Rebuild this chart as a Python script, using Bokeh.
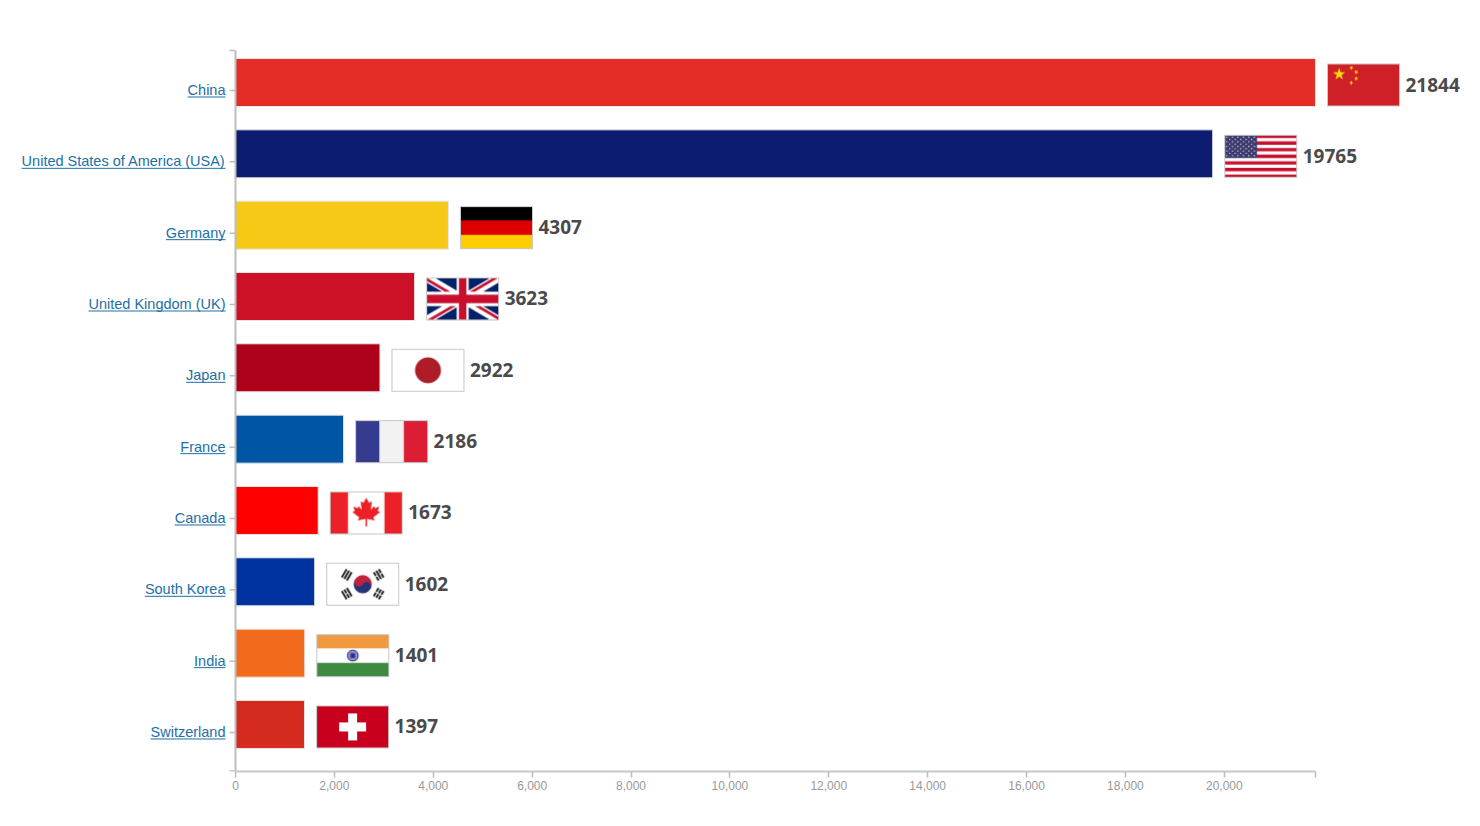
import numpy as np
import bokeh.plotting as bplt
import bokeh.models as bmod
from bokeh.core.properties import value
from bokeh.embed import file_html
from bokeh.resources import INLINE

countries = ["China", "United States of America (USA)", "Germany", "United Kingdom (UK)",
             "Japan", "France", "Canada", "South Korea", "India", "Switzerland"]
amounts = [21844, 19765, 4307, 3623, 2922, 2186, 1673, 1602, 1401, 1397]
bar_colors = ["#e52d27", "#0c1c70", "#f5c915", "#cc1126", "#ad0019",
              "#0055a4", "#ff0000", "#0032a0", "#f26b1d", "#d52b1e"]
flag_codes = ["cn", "us", "de", "gb", "jp", "fr", "ca", "kr", "in", "ch"]
x_ticks = list(range(0, 20001, 2000))

# --- layout in screen pixels -------------------------------------------------
FRAME_W, FRAME_H = 1464, 771
X0_PX = 235            # where value 0 sits
X_MAX = max(amounts)
UX = X_MAX / 1080.0    # data units per px along x
STEP = 71.33           # px per category
UY = 1.0 / STEP
TOP_PX = 82            # centre of first bar from frame top
n = len(countries)
y_top = (n - 1) + TOP_PX * UY
y_bot = (n - 1) - (FRAME_H - TOP_PX) * UY

# --- small procedural flags, 73x43 px ---------------------------------------
FW, FH, SS = 73, 43, 4


def hexrgb(h):
    h = h.lstrip("#")
    return np.array([int(h[i:i + 2], 16) for i in (0, 2, 4)], float)


def blank(color):
    img = np.empty((FH * SS, FW * SS, 3))
    img[:] = hexrgb(color)
    xs = (np.arange(FW * SS) + 0.5) / SS
    ys = (np.arange(FH * SS) + 0.5) / SS
    X, Y = np.meshgrid(xs, ys)
    return img, X, Y


def star(X, Y, cx, cy, R, rot=0.0):
    dx, dy = X - cx, Y - cy
    ang = np.arctan2(dx, -dy) - rot
    r = np.hypot(dx, dy)
    phi = np.abs((ang + np.pi / 5) % (2 * np.pi / 5) - np.pi / 5)
    ri = R * 0.382
    p1 = np.array([R, 0.0])
    p2 = np.array([ri * np.cos(np.pi / 5), ri * np.sin(np.pi / 5)])
    d = p2 - p1
    t = (p1[0] * d[1] - p1[1] * d[0]) / (np.cos(phi) * d[1] - np.sin(phi) * d[0])
    return r <= t


def polygon(X, Y, pts):
    inside = np.zeros(X.shape, bool)
    for k in range(len(pts)):
        x1, y1 = pts[k]
        x2, y2 = pts[(k + 1) % len(pts)]
        cond = (y1 > Y) != (y2 > Y)
        xi = (x2 - x1) * (Y - y1) / (y2 - y1 + 1e-12) + x1
        inside ^= cond & (X < xi)
    return inside


def flag_cn():
    img, X, Y = blank("#cf2027")
    gx, gy = FW / 30.0, FH / 20.0
    img[star(X, Y, 5 * gx, 5 * gy, 3 * gy)] = hexrgb("#ffde00")
    for sx, sy in [(10, 2), (12, 4), (12, 7), (10, 9)]:
        rot = np.arctan2(5 * gx - sx * gx, -(5 * gy - sy * gy))
        img[star(X, Y, sx * gx, sy * gy, 1.1 * gy, rot)] = hexrgb("#ffde00")
    return img


def flag_us():
    img, X, Y = blank("#ffffff")
    stripe = np.floor(Y / (FH / 13.0)).astype(int)
    img[stripe % 2 == 0] = hexrgb("#c8102e")
    cw, ch = 0.45 * FW, 7 * FH / 13.0
    img[(X < cw) & (Y < ch)] = hexrgb("#3c3b6e")
    for row in range(9):
        for col in range(11):
            if (row + col) % 2 == 0:
                cx, cy = (col + 1) * cw / 12.0, (row + 1) * ch / 10.0
                img[np.hypot(X - cx, Y - cy) < 0.6] = hexrgb("#ffffff")
    return img


def flag_de():
    img, X, Y = blank("#000000")
    img[Y > FH / 3.0] = hexrgb("#dd0000")
    img[Y > 2 * FH / 3.0] = hexrgb("#ffce00")
    return img


def flag_gb():
    img, X, Y = blank("#012169")
    fx, fy = X / FW * 60, Y / FH * 30
    d1 = (30 * fx - 60 * fy) / 67.08
    d2 = (30 * fx + 60 * fy - 1800) / 67.08
    img[(np.abs(d1) < 3) | (np.abs(d2) < 3)] = hexrgb("#ffffff")
    left = fx < 30
    red1 = (left & (d1 < 0) & (d1 > -2)) | (~left & (d1 > 0) & (d1 < 2))
    red2 = (left & (d2 > 0) & (d2 < 2)) | (~left & (d2 < 0) & (d2 > -2))
    img[red1 | red2] = hexrgb("#c8102e")
    img[(np.abs(fx - 30) < 5) | (np.abs(fy - 15) < 5)] = hexrgb("#ffffff")
    img[(np.abs(fx - 30) < 3) | (np.abs(fy - 15) < 3)] = hexrgb("#c8102e")
    return img


def flag_jp():
    img, X, Y = blank("#ffffff")
    img[np.hypot(X - FW / 2.0, Y - FH / 2.0) < 0.3 * FH] = hexrgb("#ae1c28")
    return img


def flag_fr():
    img, X, Y = blank("#f2f2f2")
    img[X < FW / 3.0] = hexrgb("#353c90")
    img[X > 2 * FW / 3.0] = hexrgb("#dc1e35")
    return img


LEAF_R = [(0.05, -0.9), (0.05, -0.42), (0.55, -0.52), (0.45, -0.32), (0.9, 0.02),
          (0.74, 0.1), (0.84, 0.38), (0.55, 0.27), (0.5, 0.42), (0.3, 0.16),
          (0.36, 0.72), (0.18, 0.62), (0.0, 0.95)]
LEAF = LEAF_R + [(-x, y) for x, y in reversed(LEAF_R[:-1])]


def flag_ca():
    img, X, Y = blank("#ffffff")
    img[(X < FW / 4.0) | (X > 3 * FW / 4.0)] = hexrgb("#eb2127")
    s = FH * 0.36
    img[polygon((X - FW / 2.0) / s, -(Y - FH / 2.0 + 0.5) / s, LEAF)] = hexrgb("#eb2127")
    return img


def flag_kr():
    img, X, Y = blank("#ffffff")
    cx, cy = FW / 2.0, FH / 2.0
    dx, dy = X - cx, Y - cy
    diag = np.hypot(FW, FH)
    ax, ay = FW / diag, FH / diag
    R = 0.21 * FH
    r = np.hypot(dx, dy)
    above = (dx * ay - dy * ax) > 0
    red_small = np.hypot(dx + ax * R / 2, dy + ay * R / 2) < R / 2
    blue_small = np.hypot(dx - ax * R / 2, dy - ay * R / 2) < R / 2
    red = (r < R) & ((above & ~blue_small) | red_small)
    blue = (r < R) & ~red
    img[red] = hexrgb("#c0213b")
    img[blue] = hexrgb("#24337a")
    t, g, L, r0 = FH / 22.0, FH / 44.0, FH / 4.5, 0.34 * FH
    trigrams = [((-ax, -ay), [1, 1, 1]), ((ax, ay), [0, 0, 0]),
                ((ax, -ay), [0, 1, 0]), ((-ax, ay), [1, 0, 1])]
    for (ux, uy), bars in trigrams:
        along = dx * ux + dy * uy
        perp = -dx * uy + dy * ux
        for j, solid in enumerate(bars):
            a0 = r0 + j * (t + g)
            m = (along > a0) & (along < a0 + t) & (np.abs(perp) < L / 2)
            if not solid:
                m &= np.abs(perp) > g / 2
            img[m] = hexrgb("#222222")
    return img


def flag_in():
    img, X, Y = blank("#ffffff")
    img[Y < FH / 3.0] = hexrgb("#f0993e")
    img[Y > 2 * FH / 3.0] = hexrgb("#3e8a40")
    dx, dy = X - FW / 2.0, Y - FH / 2.0
    r = np.hypot(dx, dy)
    ang = np.arctan2(dy, dx)
    off = (ang + np.pi / 24) % (np.pi / 12) - np.pi / 24
    chakra = (np.abs(r - 5.3) < 0.5) | ((r < 5.3) & (np.abs(r * np.sin(off)) < 0.25)) | (r < 1.0)
    img[chakra] = hexrgb("#2b2b8f")
    return img


def flag_ch():
    img, X, Y = blank("#c8001e")
    dx, dy = np.abs(X - FW / 2.0), np.abs(Y - FH / 2.0)
    img[((dx < 4.5) & (dy < 13.5)) | ((dy < 4.5) & (dx < 13.5))] = hexrgb("#ffffff")
    return img


makers = {"cn": flag_cn, "us": flag_us, "de": flag_de, "gb": flag_gb, "jp": flag_jp,
          "fr": flag_fr, "ca": flag_ca, "kr": flag_kr, "in": flag_in, "ch": flag_ch}


def to_rgba(code):
    hi = makers[code]()
    img = hi.reshape(FH, SS, FW, SS, 3).mean(axis=(1, 3))
    border = hexrgb("#c8c8c8")
    img[0, :] = img[-1, :] = border
    img[:, 0] = img[:, -1] = border
    out = np.empty((FH, FW), dtype=np.uint32)
    view = out.view(dtype=np.uint8).reshape((FH, FW, 4))
    view[..., :3] = np.clip(np.round(img), 0, 255).astype(np.uint8)
    view[..., 3] = 255
    return out[::-1]


# --- figure --------------------------------------------------------------------
p = bplt.figure(
    frame_width=FRAME_W, frame_height=FRAME_H,
    x_range=bmod.Range1d(-X0_PX * UX, (FRAME_W - X0_PX) * UX),
    y_range=bmod.Range1d(y_bot, y_top),
    y_axis_type=None,
    toolbar_location=None,
    output_backend="svg",
    min_border_left=0, min_border_right=0, min_border_top=0, min_border_bottom=0,
)
p.outline_line_color = None
p.xgrid.visible = False
p.ygrid.visible = False

ys = [n - 1 - i for i in range(n)]
bars = bmod.ColumnDataSource(dict(y=ys, right=amounts, color=bar_colors, name=countries))
p.hbar(y="y", left=0, right="right", height=48 * UY, fill_color="color",
       line_color="#e6e6e6", line_width=1, source=bars)

# flags and value labels
p.image_rgba(image=[to_rgba(c) for c in flag_codes],
             x=[v + 11.5 * UX for v in amounts],
             y=[y - 24 * UY for y in ys],
             dw=[73 * UX] * n, dh=[43 * UY] * n)
vals = bmod.ColumnDataSource(dict(x=[v + 90 * UX for v in amounts],
                                  y=[y - 2 * UY for y in ys],
                                  text=[str(v) for v in amounts]))
p.text(x="x", y="y", text="text", source=vals, text_font=value("Open Sans"),
       text_font_style="bold", text_font_size=value("19px"), text_color="#4a4a4a",
       text_baseline="middle", text_align="left")

# left axis: drawn in data space so that labels can be underlined like links
AXIS_C = "#bdbdbd"
y_axis_top = (n - 1) + 32 * UY
p.segment(x0=0, y0=y_axis_top, x1=0, y1=y_bot, line_color=AXIS_C, line_width=2)
p.segment(x0=-6 * UX, y0=y_axis_top, x1=0, y1=y_axis_top, line_color=AXIS_C, line_width=1.5)
p.segment(x0=-6 * UX, y0=y_bot + 0.5 * UY, x1=0, y1=y_bot + 0.5 * UY, line_color=AXIS_C, line_width=1.5)
tick_y = [y - 8 * UY for y in ys]
p.segment(x0=[-6 * UX] * n, y0=tick_y, x1=[0] * n, y1=tick_y, line_color=AXIS_C, line_width=1.5)

ARIAL = {" ": 278, "(": 333, ")": 333, "A": 667, "C": 722, "F": 611, "G": 778, "I": 278,
         "J": 500, "K": 667, "S": 667, "U": 722, "a": 556, "c": 500, "d": 556, "e": 556,
         "f": 278, "g": 556, "h": 556, "i": 222, "m": 833, "n": 556, "o": 556, "r": 333,
         "s": 500, "t": 278, "u": 556, "w": 722, "y": 500, "z": 500, "l": 222, "k": 500,
         "p": 556}
LABEL_PX = 14.5
widths = [sum(ARIAL.get(ch, 556) for ch in name) / 1000.0 * LABEL_PX for name in countries]
LINK = "#1e6fa5"
label_x = -10 * UX
labels = bmod.ColumnDataSource(dict(x=[label_x] * n, y=[t + 0.5 * UY for t in tick_y], text=countries))
p.text(x="x", y="y", text="text", source=labels, text_font=value("Liberation Sans"),
       text_font_size=value("14.5px"), text_color=LINK, text_align="right",
       text_baseline="middle")
p.segment(x0=[label_x - w * UX for w in widths], y0=[t - 6.5 * UY for t in tick_y],
          x1=[label_x] * n, y1=[t - 6.5 * UY for t in tick_y], line_color=LINK, line_width=1)

# bottom axis
xa = p.xaxis[0]
xa.ticker = bmod.FixedTicker(ticks=x_ticks + [X_MAX])
xa.major_label_overrides = {X_MAX: ""}
xa.formatter = bmod.NumeralTickFormatter(format="0,0")
xa.bounds = (0, X_MAX)
xa.axis_line_color = "#c8c8c8"
xa.axis_line_width = 2
xa.major_tick_line_color = AXIS_C
xa.major_tick_line_width = 1.5
xa.major_tick_out = 6
xa.major_tick_in = 0
xa.minor_tick_line_color = None
xa.major_label_text_color = "#999999"
xa.major_label_text_font = "Liberation Sans"
xa.major_label_text_font_size = "12px"
xa.major_label_standoff = 3

open("out.html", "w").write(file_html(p, INLINE))
